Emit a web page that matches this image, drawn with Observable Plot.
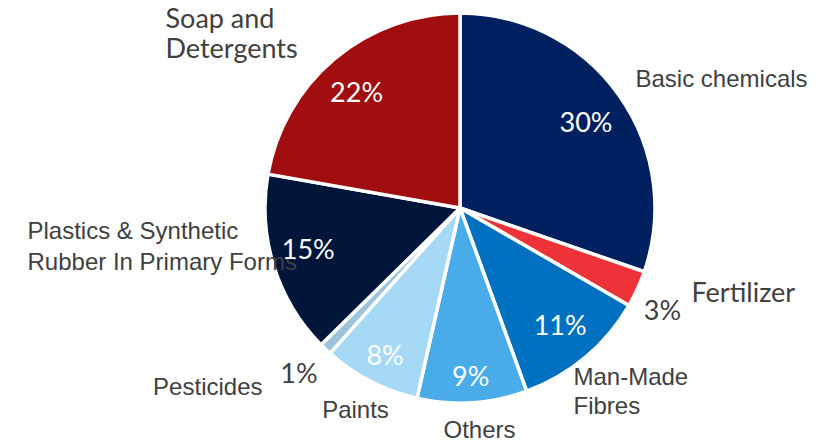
<!DOCTYPE html>
<html>
<head>
<meta charset="utf-8">
<script src="https://cdn.jsdelivr.net/npm/d3@7"></script>
<script src="https://cdn.jsdelivr.net/npm/@observablehq/plot@0.6"></script>
<style>
  html, body { margin: 0; padding: 0; background: #fff; }
  #chart svg { display: block; }
</style>
</head>
<body>
<div id="chart"></div>
<script>
// ---- data ----
const categories = ["Basic chemicals", "Fertilizer", "Man-Made Fibres", "Others", "Paints", "Pesticides", "Plastics & Synthetic Rubber In Primary Forms", "Soap and Detergents"];
const shares = [30, 3, 11, 9, 8, 1, 15, 22];
const pctLabels = ["30%", "3%", "11%", "9%", "8%", "1%", "15%", "22%"];
const catLabels = ["Basic chemicals", "Fertilizer", "Man-Made\nFibres", "Others", "Paints", "Pesticides", "Plastics & Synthetic\nRubber In Primary Forms", "Soap and\nDetergents"];

// ---- style / layout ----
const colors = ["#002060", "#ee3338", "#0070c0", "#4aabe9", "#a6d9f6", "#9cc4da", "#00153a", "#a00e10"];
const W = 821, H = 442;
const pieCenter = [460, 208];
const pieRadius = 195;
const pctInside = [true, false, true, true, true, false, true, true];
// placement of each percentage label: fraction of the radius, and angle offset (degrees) from the slice middle
const pctRadius = [0.777, 1.163, 0.79, 0.867, 0.853, 1.188, 0.81, 0.795];
const pctAngleOffset = [1.4, 2.5, -0.3, 0.2, -0.3, 0.6, 1.9, -2.1];
// category label placement: [x, y, anchor, font, size, lineHeight]
const catLayout = [
  [635, 77, "start", "Liberation Sans, Arial, sans-serif", 24, 1.2],
  [691, 292, "start", "Lato, sans-serif", 27, 1.1],
  [573, 390, "start", "Liberation Sans, Arial, sans-serif", 24, 1.2],
  [479, 428, "middle", "Liberation Sans, Arial, sans-serif", 24, 1.2],
  [355, 408, "middle", "Liberation Sans, Arial, sans-serif", 24, 1.2],
  [262, 385, "end", "Liberation Sans, Arial, sans-serif", 24, 1.2],
  [27, 244, "start", "Liberation Sans, Arial, sans-serif", 24, 1.3],
  [165, 33, "start", "Lato, sans-serif", 27, 1.12]
];

const arcs = d3.pie().sort(null).value(d => d)(shares);
const rows = arcs.map((a, i) => ({
  category: categories[i],
  pct: pctLabels[i],
  cat: catLabels[i],
  ang: (a.startAngle + a.endAngle) / 2 + pctAngleOffset[i] * Math.PI / 180,
  inside: pctInside[i],
  rf: pctRadius[i],
  i
}));

function pieMark(index, scales) {
  const cx = scales.x(pieCenter[0]), cy = scales.y(pieCenter[1]);
  const r = Math.abs(scales.x(pieCenter[0] + pieRadius) - cx);
  const arcGen = d3.arc().innerRadius(0).outerRadius(r);
  const g = d3.create("svg:g").attr("transform", `translate(${cx},${cy})`);
  g.selectAll("path").data(arcs).join("path")
    .attr("d", arcGen)
    .attr("fill", (d, i) => colors[i])
    .attr("stroke", "white")
    .attr("stroke-width", 3.5)
    .attr("stroke-linejoin", "round");
  return g.node();
}

const catMarks = rows.map((d, i) => {
  const L = catLayout[i];
  return Plot.text([d], {
    x: () => L[0], y: () => L[1], text: "cat",
    textAnchor: L[2], fontFamily: L[3], fontSize: L[4], lineHeight: L[5],
    fill: "#404040"
  });
});

const chart = Plot.plot({
  width: W, height: H,
  margin: 0,
  x: {domain: [0, W], range: [0, W], axis: null},
  y: {domain: [0, H], range: [0, H], axis: null},
  marks: [
    pieMark,
    ...catMarks,
    Plot.text(rows, {
      x: d => pieCenter[0] + Math.sin(d.ang) * pieRadius * d.rf,
      y: d => pieCenter[1] - Math.cos(d.ang) * pieRadius * d.rf,
      text: "pct",
      fill: d => d.inside ? "white" : "#404040",
      fontFamily: "Lato, sans-serif",
      fontSize: 27
    })
  ]
});
document.getElementById("chart").appendChild(chart);
</script>
</body>
</html>
